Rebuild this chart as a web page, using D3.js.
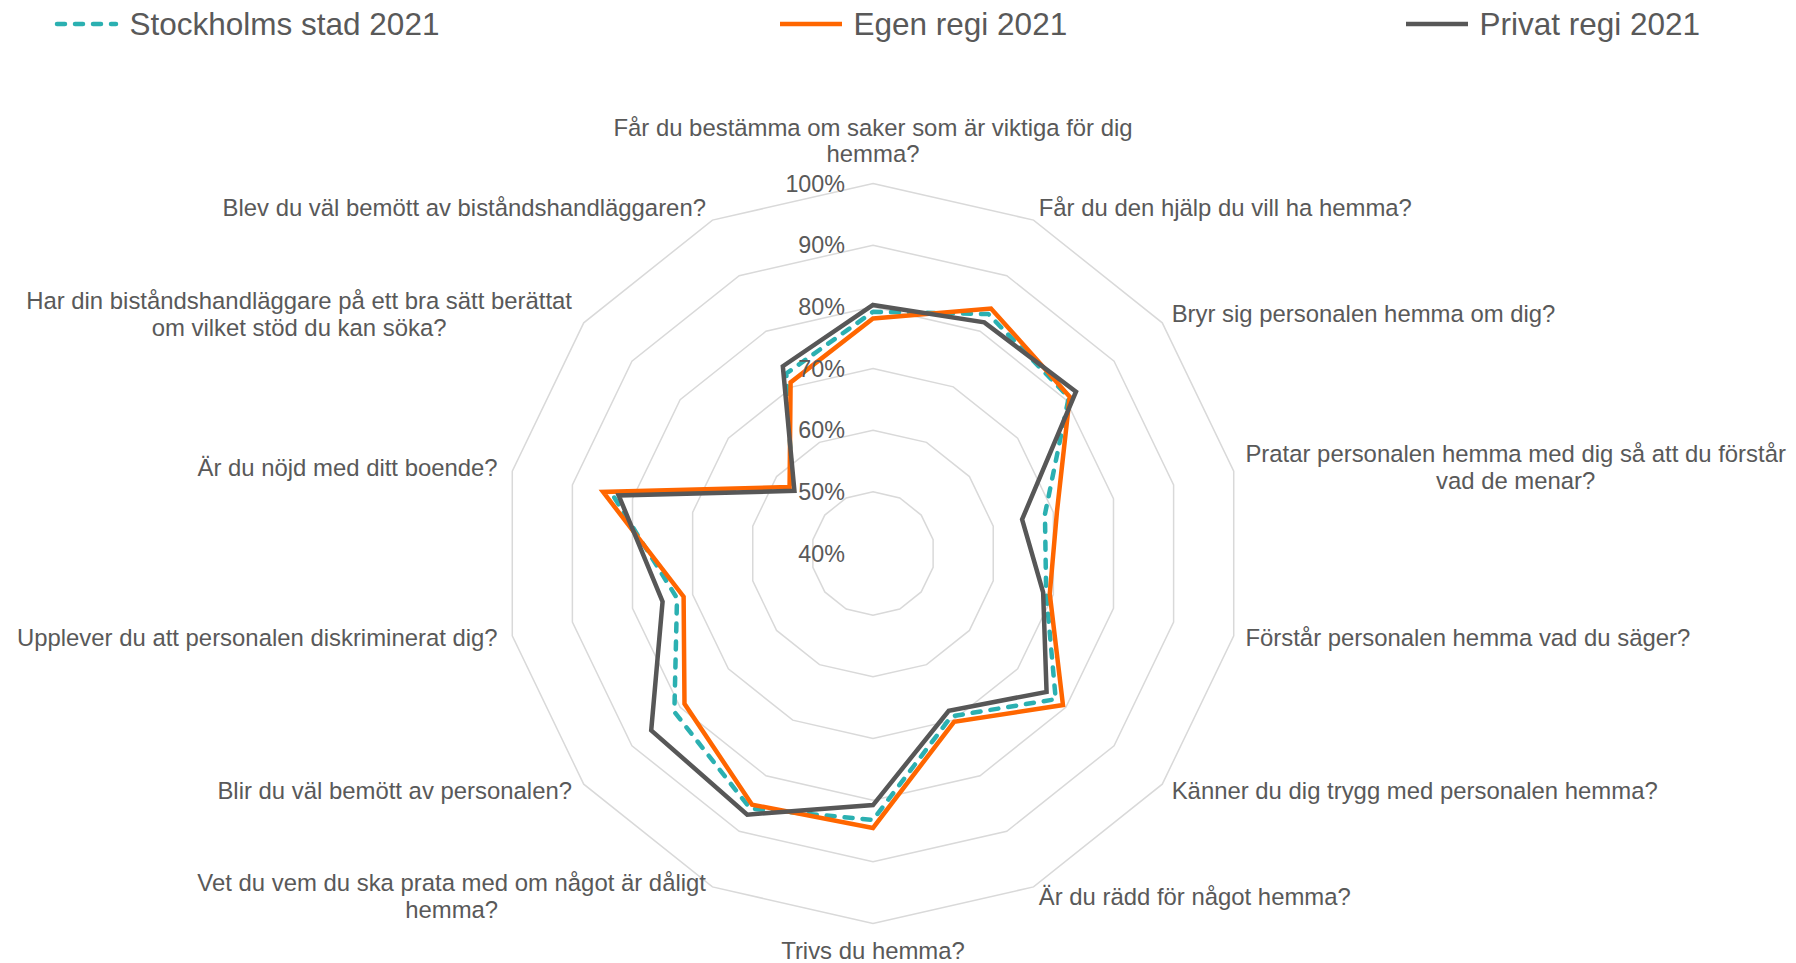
<!DOCTYPE html>
<html>
<head>
<meta charset="utf-8">
<script src="https://cdn.jsdelivr.net/npm/d3@7"></script>
<style>
  html, body { margin: 0; padding: 0; background: #ffffff; }
  svg { display: block; font-family: "Liberation Sans", Arial, sans-serif; }
</style>
</head>
<body>
<svg id="chart" width="1796" height="963"></svg>
<script>
// ---- Data ----
const categories = [
  "Får du bestämma om saker som är viktiga för dig\nhemma?",
  "Får du den hjälp du vill ha hemma?",
  "Bryr sig personalen hemma om dig?",
  "Pratar personalen hemma med dig så att du förstår\nvad de menar?",
  "Förstår personalen hemma vad du säger?",
  "Känner du dig trygg med personalen hemma?",
  "Är du rädd för något hemma?",
  "Trivs du hemma?",
  "Vet du vem du ska prata med om något är dåligt\nhemma?",
  "Blir du väl bemött av personalen?",
  "Upplever du att personalen diskriminerat dig?",
  "Är du nöjd med ditt boende?",
  "Har din biståndshandläggare på ett bra sätt berättat\nom vilket stöd du kan söka?",
  "Blev du väl bemött av biståndshandläggaren?"
];
const seriesNames = ["Stockholms stad 2021", "Egen regi 2021", "Privat regi 2021"];
const stockholm = [0.792, 0.831, 0.806, 0.686, 0.688, 0.779, 0.693, 0.832, 0.859, 0.812, 0.726, 0.834, 0.567, 0.724];
const egenRegi  = [0.781, 0.841, 0.808, 0.706, 0.694, 0.794, 0.703, 0.845, 0.852, 0.791, 0.715, 0.849, 0.573, 0.708];
const privatRegi= [0.803, 0.816, 0.821, 0.648, 0.683, 0.760, 0.683, 0.808, 0.870, 0.860, 0.750, 0.823, 0.563, 0.737];
const tickValues = [0.4, 0.5, 0.6, 0.7, 0.8, 0.9, 1.0];

// ---- Layout ----
const svg = d3.select("#chart");
const cx = 873, cy = 553.5, R = 370;
const textColor = "#595959";
const colors = ["#2BB0B1", "#FF6600", "#575757"];
const labelFont = 23.9;

const r = d3.scaleLinear().domain([0.4, 1.0]).range([0, R]);
const angle = d3.scalePoint().domain(d3.range(categories.length)).range([0, 2 * Math.PI * (categories.length - 1) / categories.length]);

const g = svg.append("g").attr("transform", `translate(${cx},${cy})`);

// Grid rings
const ringLine = d3.lineRadial()
  .angle(d => angle(d.i))
  .radius(d => r(d.v))
  .curve(d3.curveLinearClosed);

tickValues.filter(t => t > 0.4).forEach(t => {
  g.append("path")
    .attr("d", ringLine(categories.map((c, i) => ({ i, v: t }))))
    .attr("fill", "none")
    .attr("stroke", "#d9d9d9")
    .attr("stroke-width", 1.5);
});

// Series
const series = [stockholm, egenRegi, privatRegi];
const seriesLine = d3.lineRadial()
  .angle((d, i) => angle(i))
  .radius(d => r(d))
  .curve(d3.curveLinearClosed);

series.forEach((vals, si) => {
  const p = g.append("path")
    .attr("d", seriesLine(vals))
    .attr("fill", "none")
    .attr("stroke", colors[si])
    .attr("stroke-width", 4.5)
    .attr("stroke-linejoin", si === 0 ? "round" : "miter");
  if (si === 0) {
    p.attr("stroke-dasharray", "8,10").attr("stroke-linecap", "round");
  }
});

// Tick labels
const fmt = d3.format(".0%");
g.selectAll("text.tick")
  .data(tickValues)
  .join("text")
  .attr("class", "tick")
  .attr("x", -28)
  .attr("y", d => -r(d))
  .attr("text-anchor", "end")
  .attr("dominant-baseline", "central")
  .attr("font-size", 23.3)
  .attr("fill", textColor)
  .text(d => fmt(d));

// Category labels
const lineH = 26.4;
categories.forEach((label, i) => {
  const a = angle(i);
  const s = Math.sin(a), c = Math.cos(a);
  const rr = R + 12;
  let x = s * rr;
  const y = -c * rr;
  const lines = label.split("\n");
  let anchor = "middle";
  if (s > 0.1) anchor = "start";
  else if (s < -0.1) { anchor = "end"; x -= 3 * Math.abs(s); }
  const blockH = lines.length * lineH;
  let yc = y - 2;
  if (Math.abs(s) < 0.1) yc = y - c * (blockH / 2 + 3) + (c < 0 ? -2 : -2);
  const t = g.append("text")
    .attr("font-size", labelFont)
    .attr("fill", textColor)
    .attr("dominant-baseline", "central");
  if (lines.length > 1 && anchor !== "middle") {
    t.attr("text-anchor", "middle");
    const tmp = g.append("text").attr("font-size", labelFont).text(lines[0]);
    const w = d3.max(lines, l => { tmp.text(l); return tmp.node().getComputedTextLength(); });
    tmp.remove();
    const bx = anchor === "start" ? x + w / 2 : x - w / 2;
    lines.forEach((l, li) => {
      t.append("tspan").attr("x", bx).attr("y", yc - blockH / 2 + lineH * (li + 0.5)).text(l);
    });
  } else {
    t.attr("text-anchor", anchor);
    lines.forEach((l, li) => {
      t.append("tspan").attr("x", x).attr("y", yc - blockH / 2 + lineH * (li + 0.5)).text(l);
    });
  }
});

// Legend
const legendX = [54, 778, 1404];
const legend = svg.append("g");
seriesNames.forEach((name, i) => {
  const lg = legend.append("g").attr("transform", `translate(${legendX[i]},24)`);
  const ln = lg.append("line")
    .attr("x1", 2).attr("x2", 64).attr("y1", 0).attr("y2", 0)
    .attr("stroke", colors[i]).attr("stroke-width", 4.5);
  if (i === 0) ln.attr("stroke-dasharray", "8,10").attr("stroke-linecap", "round").attr("x1", 3).attr("x2", 62);
  lg.append("text")
    .attr("x", 75.5)
    .attr("y", 0)
    .attr("dominant-baseline", "central")
    .attr("font-size", 31.5)
    .attr("fill", textColor)
    .text(name);
});
</script>
</body>
</html>
